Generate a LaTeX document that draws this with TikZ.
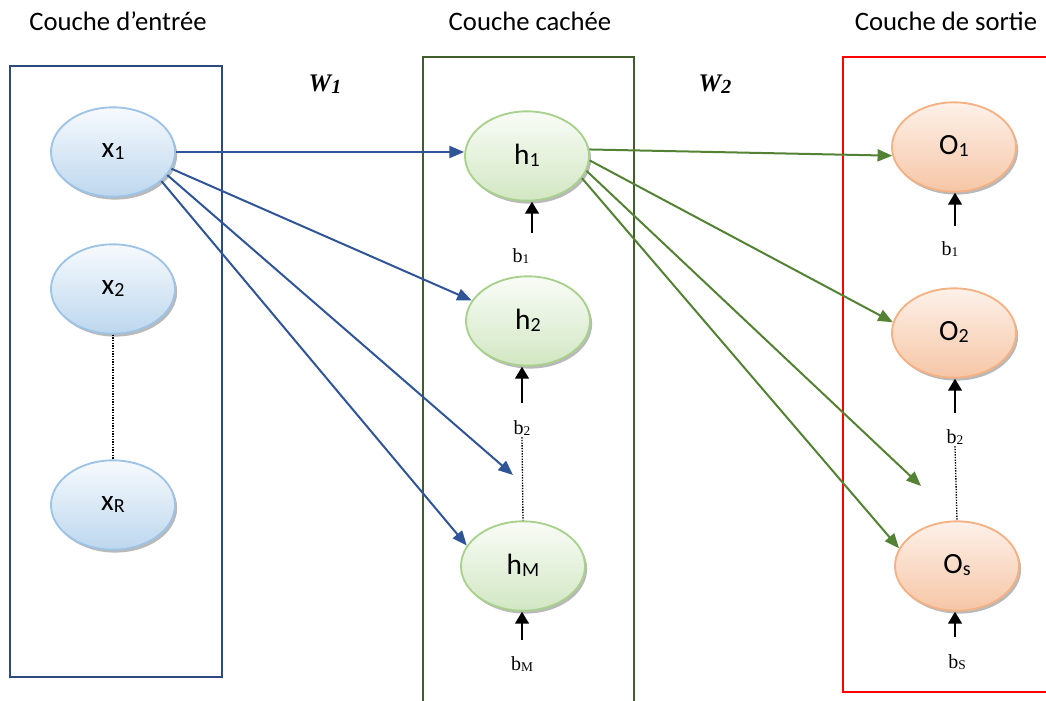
\documentclass[tikz,border=0pt]{standalone}
\usepackage{fontspec}
\setmainfont{Carlito}
\newfontfamily\serifnum{Liberation Serif}
\usetikzlibrary{arrows.meta,shadows,shapes.geometric}

\definecolor{inline}{HTML}{2E4A7D}
\definecolor{hidline}{HTML}{3F5F2A}
\definecolor{barrow}{HTML}{2F5597}
\definecolor{garrow}{HTML}{548235}
\definecolor{bluerim}{HTML}{9DC3E6}
\definecolor{bluetop}{HTML}{F7FAFD}
\definecolor{bluebot}{HTML}{BDD7EE}
\definecolor{greenrim}{HTML}{A9D18E}
\definecolor{greentop}{HTML}{F9FCF7}
\definecolor{greenbot}{HTML}{D2E7C3}
\definecolor{orangerim}{HTML}{F4B183}
\definecolor{orangetop}{HTML}{FDF1E9}
\definecolor{orangebot}{HTML}{F6C6A6}

\newcommand{\lowsub}[1]{\raisebox{-1.5pt}{\fontsize{15}{15}\selectfont #1}}
\newcommand{\bsub}[1]{\raisebox{-1pt}{\fontsize{10}{10}\selectfont #1}}
\newcommand{\lifted}[1]{\raisebox{3pt}{#1}}

\tikzset{
  neuron/.style={ellipse, line width=1.4pt, minimum width=93pt, minimum height=67pt,
    inner sep=0pt, font=\fontsize{22}{22}\selectfont,
    drop shadow={shadow xshift=1.6pt, shadow yshift=-2.2pt, fill=black!55, opacity=0.5}},
  innode/.style={neuron, draw=bluerim, top color=bluetop, bottom color=bluebot},
  hidnode/.style={neuron, draw=greenrim, top color=greentop, bottom color=greenbot},
  outnode/.style={neuron, draw=orangerim, top color=orangetop, bottom color=orangebot},
  layerbox/.style={line width=1.3pt},
  title/.style={font=\fontsize{20}{20}\selectfont},
  weight/.style={font=\serifnum\bfseries\itshape\fontsize{19}{19}\selectfont},
  biaslabel/.style={font=\serifnum\fontsize{15}{15}\selectfont, inner sep=1pt},
  bluelink/.style={draw=barrow, line width=1.5pt, -{Triangle[length=11pt,width=9pt]}},
  greenlink/.style={draw=garrow, line width=1.5pt, -{Triangle[length=11pt,width=9pt]}},
  biasarrow/.style={draw=black, line width=2.2pt, -{Triangle[length=9pt,width=10pt]}},
  gap/.style={draw=black, line width=1pt, dash pattern=on 1pt off 1pt},
}

\begin{document}
\begin{tikzpicture}[x=0.75pt, y=-0.75pt]
  \useasboundingbox (0,0) rectangle (1046,700);

  % layer frames
  \draw[layerbox, draw=inline] (10,66) rectangle (222,677);
  \draw[layerbox, draw=hidline] (423,57) rectangle (634,712);
  \draw[layerbox, draw=red] (843,57) rectangle (1056,692);

  % layer titles and weight matrices
  \node[title] (tin) at (118,21) {Couche d’entrée};
  \node[title] (thid) at (530,21) {Couche cachée};
  \node[title] (tout) at (946,21) {Couche de sortie};
  \node[weight] (w1) at (325,84) {W\lowsub{1}};
  \node[weight] (w2) at (715,84) {W\lowsub{2}};

  % input neurons
  \node[innode] (x1) at (113,152) {\lifted{x\lowsub{1}}};
  \node[innode] (x2) at (113,289) {\lifted{x\lowsub{2}}};
  \node[innode] (xR) at (113,505) {\lifted{x\lowsub{R}}};
  \draw[gap] (x2.south) -- (xR.north);

  % hidden neurons
  \node[hidnode] (h1) at (527,156) {\lifted{h\lowsub{1}}};
  \node[hidnode] (h2) at (528,321) {\lifted{h\lowsub{2}}};
  \node[hidnode] (hM) at (523,566) {\lifted{h\lowsub{M}}};

  % output neurons
  \node[outnode] (o1) at (954,147) {\lifted{O\lowsub{1}}};
  \node[outnode] (o2) at (954,333) {\lifted{O\lowsub{2}}};
  \node[outnode] (os) at (957,566) {\lifted{O\lowsub{s}}};

  % hidden biases
  \node[biaslabel] (hb1) at (521,256) {b\bsub{1}};
  \node[biaslabel] (hb2) at (522,428) {b\bsub{2}};
  \node[biaslabel] (hbM) at (522,664) {b\bsub{M}};
  \coordinate (hs1) at (532,233);
  \coordinate (hs2) at (522,403);
  \coordinate (hsM) at (522,640);
  \draw[biasarrow] (hs1) -- (hs1 |- h1.south);
  \draw[biasarrow] (hs2) -- (hs2 |- h2.south);
  \draw[biasarrow] (hsM) -- (hsM |- hM.south);
  \draw[gap] (hb2.south) -- (hM.north);

  % output biases
  \node[biaslabel] (ob1) at (950,249) {b\bsub{1}};
  \node[biaslabel] (ob2) at (955,437) {b\bsub{2}};
  \node[biaslabel] (obS) at (957,662) {b\bsub{S}};
  \coordinate (os1) at (955,226);
  \coordinate (os2) at (955,413);
  \coordinate (osS) at (955,637);
  \draw[biasarrow] (os1) -- (os1 |- o1.south);
  \draw[biasarrow] (os2) -- (os2 |- o2.south);
  \draw[biasarrow] (osS) -- (osS |- os.south);
  \draw[gap] (ob2.south) -- (os.north);

  % input to hidden connections
  \coordinate (hgap) at (513,475);
  \draw[bluelink] (x1.east) -- (x1.east -| h1.west);
  \draw[bluelink] (x1.-16) -- (h2.160);
  \draw[bluelink] (x1.-23) -- (hgap);
  \draw[bluelink] (x1.-31) -- (hM.160);

  % hidden to output connections
  \coordinate (ogap) at (921,486);
  \draw[greenlink] (h1.6) -- (o1.188);
  \draw[greenlink] (h1.-4) -- (o2.170);
  \draw[greenlink] (h1.-14) -- (ogap);
  \draw[greenlink] (h1.-22) -- (os.163);
\end{tikzpicture}
\end{document}
